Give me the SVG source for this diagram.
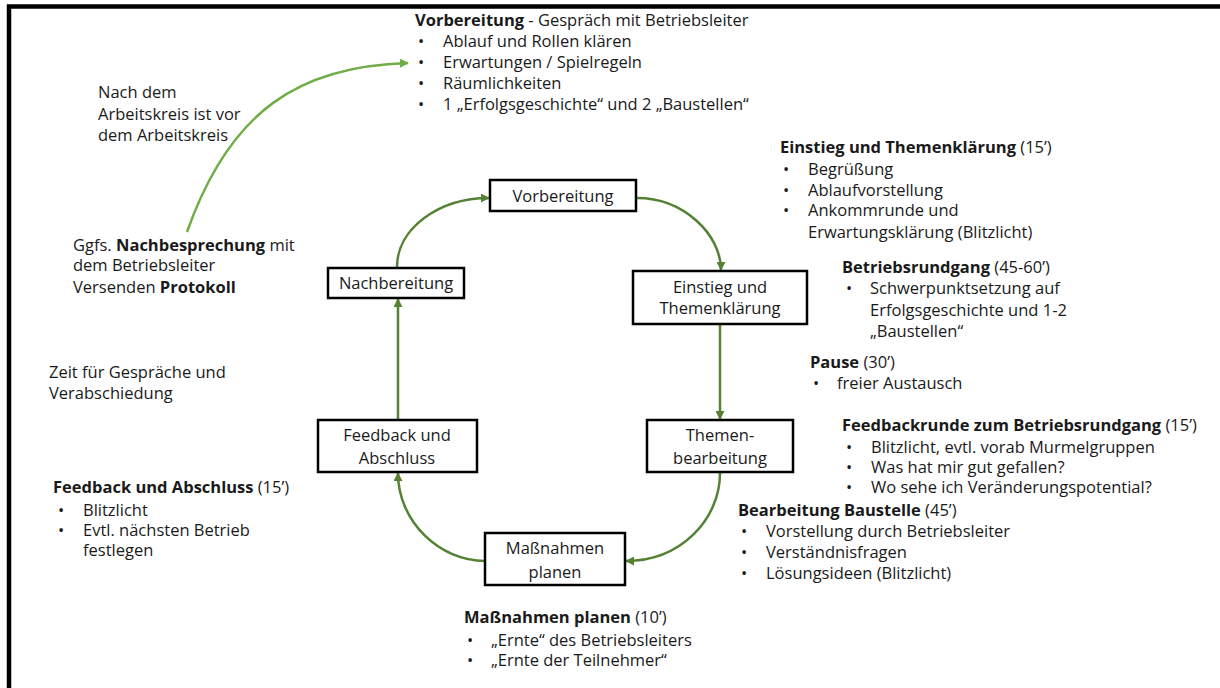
<svg xmlns="http://www.w3.org/2000/svg" width="1220" height="688" viewBox="0 0 1220 688">
<defs>
<style>
text{font-family:"Open Sans","Noto Sans","DejaVu Sans",sans-serif;font-size:16.5px;fill:#1a1a1a}
.b{font-weight:700}
.box{fill:#fff;stroke:#000;stroke-width:2.5}
.lbl{text-anchor:middle}
.con{fill:none;stroke:#548235;stroke-width:2.5}
.lt{fill:none;stroke:#70ad47;stroke-width:2.5}
</style>
<marker id="ah" viewBox="0 0 10 10" refX="9" refY="5" markerWidth="9" markerHeight="9" markerUnits="userSpaceOnUse" orient="auto"><path d="M0,0L10,5L0,10z" fill="#548235"/></marker>
<marker id="ahl" viewBox="0 0 10 10" refX="9" refY="5" markerWidth="9" markerHeight="9" markerUnits="userSpaceOnUse" orient="auto"><path d="M0,0L10,5L0,10z" fill="#70ad47"/></marker>
</defs>
<rect width="1220" height="688" fill="#fff"/>
<path d="M9,688V6.5H1220" fill="none" stroke="#000" stroke-width="4.5"/>

<g id="connectors">
<path class="lt" d="M187,232C230,110 300,66 408,63" marker-end="url(#ahl)"/>
<path class="con" d="M397,267C397,229 438,198 489,198" marker-end="url(#ah)"/>
<path class="con" d="M637,198C683,198 721,234 721,270" marker-end="url(#ah)"/>
<path class="con" d="M720,325V419" marker-end="url(#ah)"/>
<path class="con" d="M720,473C720,520 680,561 626,561" marker-end="url(#ah)"/>
<path class="con" d="M485,561C440,561 398,522 398,473" marker-end="url(#ah)"/>
<path class="con" d="M398,420V299" marker-end="url(#ah)"/>
</g>

<g id="n-vorbereitung"><rect class="box" x="490" y="180" width="146" height="31"/><text class="lbl" x="563" y="202">Vorbereitung</text></g>
<g id="n-nachbereitung"><rect class="box" x="328" y="268" width="136" height="30"/><text class="lbl" x="396" y="289">Nachbereitung</text></g>
<g id="n-einstieg"><rect class="box" x="633" y="271" width="174" height="53"/><text class="lbl" x="720" y="293">Einstieg und<tspan x="720" y="314">Themenklärung</tspan></text></g>
<g id="n-feedback"><rect class="box" x="318" y="420" width="159" height="52"/><text class="lbl" x="397" y="441">Feedback und<tspan x="397" y="464">Abschluss</tspan></text></g>
<g id="n-themen"><rect class="box" x="647" y="420" width="146" height="52"/><text class="lbl" x="720" y="441">Themen-<tspan x="720" y="464">bearbeitung</tspan></text></g>
<g id="n-massnahmen"><rect class="box" x="485" y="533" width="140" height="52"/><text class="lbl" x="555" y="554">Maßnahmen<tspan x="555" y="578">planen</tspan></text></g>

<g id="t-vorbereitung">
<text x="415" y="26"><tspan class="b">Vorbereitung</tspan> - Gespräch mit Betriebsleiter<tspan x="418" y="47">•</tspan><tspan x="443" y="47">Ablauf und Rollen klären</tspan><tspan x="418" y="68">•</tspan><tspan x="443" y="68">Erwartungen / Spielregeln</tspan><tspan x="418" y="89">•</tspan><tspan x="443" y="89">Räumlichkeiten</tspan><tspan x="418" y="110">•</tspan><tspan x="443" y="110">1 „Erfolgsgeschichte“ und 2 „Baustellen“</tspan></text>
</g>
<g id="t-nach">
<text x="98" y="98">Nach dem<tspan x="98" y="120">Arbeitskreis ist vor</tspan><tspan x="98" y="141">dem Arbeitskreis</tspan></text>
</g>
<g id="t-einstieg">
<text x="780" y="153"><tspan class="b">Einstieg und Themenklärung</tspan> (15’)<tspan x="783" y="175">•</tspan><tspan x="808" y="175">Begrüßung</tspan><tspan x="783" y="196">•</tspan><tspan x="808" y="196">Ablaufvorstellung</tspan><tspan x="783" y="216">•</tspan><tspan x="808" y="216">Ankommrunde und</tspan><tspan x="808" y="238">Erwartungsklärung (Blitzlicht)</tspan></text>
</g>
<g id="t-rundgang">
<text x="842" y="273"><tspan class="b">Betriebsrundgang</tspan> (45-60’)<tspan x="846" y="294">•</tspan><tspan x="870" y="294">Schwerpunktsetzung auf</tspan><tspan x="870" y="316">Erfolgsgeschichte und 1-2</tspan><tspan x="870" y="337">„Baustellen“</tspan></text>
</g>
<g id="t-pause">
<text x="810" y="368"><tspan class="b">Pause</tspan> (30’)<tspan x="813" y="389">•</tspan><tspan x="837" y="389">freier Austausch</tspan></text>
</g>
<g id="t-feedbackrunde">
<text x="842" y="431"><tspan class="b">Feedbackrunde zum Betriebsrundgang</tspan> (15’)<tspan x="846" y="453">•</tspan><tspan x="871" y="453">Blitzlicht, evtl. vorab Murmelgruppen</tspan><tspan x="846" y="473">•</tspan><tspan x="871" y="473">Was hat mir gut gefallen?</tspan><tspan x="846" y="493">•</tspan><tspan x="871" y="493">Wo sehe ich Veränderungspotential?</tspan></text>
</g>
<g id="t-bearbeitung">
<text x="738" y="516"><tspan class="b">Bearbeitung Baustelle</tspan>  (45’)<tspan x="741" y="537">•</tspan><tspan x="766" y="537">Vorstellung durch Betriebsleiter</tspan><tspan x="741" y="558">•</tspan><tspan x="766" y="558">Verständnisfragen</tspan><tspan x="741" y="579">•</tspan><tspan x="766" y="579">Lösungsideen (Blitzlicht)</tspan></text>
</g>
<g id="t-massnahmen">
<text x="464" y="623"><tspan class="b">Maßnahmen planen</tspan> (10’)<tspan x="467" y="646">•</tspan><tspan x="491" y="646">„Ernte“ des Betriebsleiters</tspan><tspan x="467" y="666">•</tspan><tspan x="491" y="666">„Ernte der Teilnehmer“</tspan></text>
</g>
<g id="t-abschluss">
<text x="53" y="493"><tspan class="b">Feedback und Abschluss</tspan> (15’)<tspan x="58" y="516">•</tspan><tspan x="83" y="516">Blitzlicht</tspan><tspan x="58" y="536">•</tspan><tspan x="83" y="536">Evtl. nächsten Betrieb</tspan><tspan x="83" y="556">festlegen</tspan></text>
</g>
<g id="t-nachbesprechung">
<text x="73" y="251">Ggfs. <tspan class="b">Nachbesprechung</tspan> mit<tspan x="73" y="271">dem Betriebsleiter</tspan><tspan x="73" y="293">Versenden </tspan><tspan class="b">Protokoll</tspan></text>
</g>
<g id="t-zeit">
<text x="49" y="378">Zeit für Gespräche und<tspan x="49" y="399">Verabschiedung</tspan></text>
</g>
</svg>
